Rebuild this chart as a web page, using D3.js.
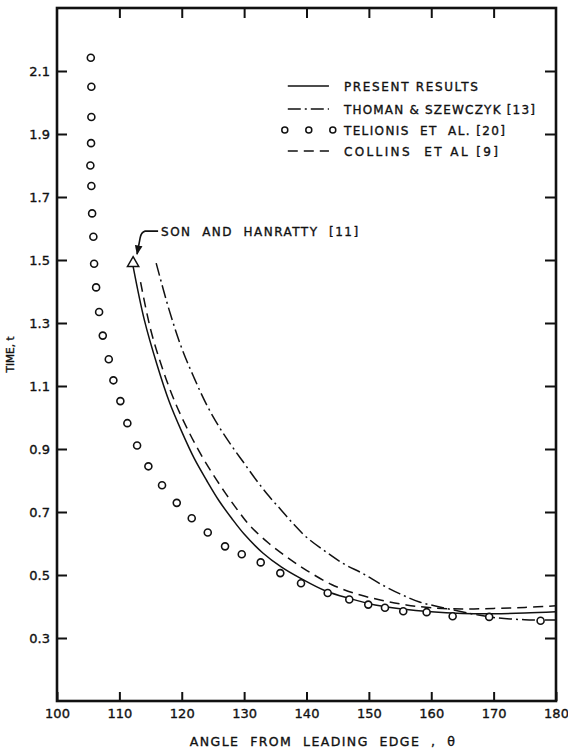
<!DOCTYPE html>
<html><head><meta charset="utf-8">
<script src="https://cdn.jsdelivr.net/npm/d3@7"></script>
<style>
body{margin:0;background:#fff;}
text{font-family:"DejaVu Sans","Liberation Sans",sans-serif;fill:#111;stroke:#111;stroke-width:0.35px;white-space:pre;}
</style></head>
<body><svg id="c" width="568" height="753"></svg>
<script>
// ---- data ----
const xTicks = [100,110,120,130,140,150,160,170,180];
const yTicks = [0.3,0.5,0.7,0.9,1.1,1.3,1.5,1.7,1.9,2.1];
const xTitle = "ANGLE  FROM  LEADING  EDGE  ,  \u03B8";
const yTitle = "TIME, t";

const presentAngle = [112.2,114,116,118,120,122,124,126,128,130,133,136,139,143,147,151,155,160,165,170,175,180];
const presentTime  = [1.48,1.31,1.17,1.05,0.955,0.87,0.80,0.735,0.68,0.63,0.57,0.525,0.49,0.45,0.425,0.405,0.393,0.383,0.378,0.377,0.379,0.383];

const thomanAngle = [115.9,118,120,122,124,126,128,130,132,134,136,138,140,143,146,149,152,155,158,161,164,167,170,175,180];
const thomanTime  = [1.49,1.34,1.22,1.125,1.04,0.97,0.91,0.855,0.80,0.75,0.705,0.66,0.62,0.575,0.535,0.505,0.47,0.44,0.415,0.40,0.387,0.375,0.365,0.358,0.357];

const collinsAngle = [113.4,115,117,119,121,123,125,127,129,131,134,137,140,144,148,152,156,160,165,170,175,180];
const collinsTime  = [1.43,1.28,1.15,1.045,0.96,0.885,0.82,0.76,0.705,0.655,0.60,0.555,0.515,0.47,0.44,0.42,0.405,0.396,0.392,0.394,0.397,0.402];

const telionisAngle = [105.42,105.51,105.51,105.46,105.35,105.51,105.63,105.83,105.95,106.27,106.75,107.34,108.30,109.04,110.16,111.28,112.84,114.65,116.84,119.20,121.60,124.17,126.94,129.62,132.66,135.80,139.12,143.40,146.86,149.90,152.58,155.51,159.26,163.43,169.29,177.53];
const telionisTime  = [2.142,2.050,1.954,1.871,1.800,1.735,1.648,1.574,1.488,1.413,1.335,1.260,1.185,1.118,1.052,0.982,0.911,0.845,0.785,0.729,0.680,0.635,0.591,0.566,0.540,0.506,0.474,0.443,0.422,0.406,0.396,0.385,0.382,0.369,0.367,0.355];

const sonAngle = [112.2];
const sonTime = [1.49];
const sonLabel = "SON  AND  HANRATTY  [11]";

const legendLabels = ["PRESENT RESULTS","THOMAN & SZEWCZYK [13]","TELIONIS  ET  AL. [20]","COLLINS  ET AL [9]"];
const legendKinds = ["solid","dashdot","circles","dashed"];

// ---- chart ----
const svg = d3.select("#c");
const x = d3.scaleLinear().domain([100,180]).range([57,556]);
const y = d3.scaleLinear().domain([0.1,2.3]).range([701,8]);

const fmt = d3.format(".1f");

// axes
const gL = svg.append("g").attr("transform",`translate(${x(100)},0)`)
  .call(d3.axisLeft(y).tickValues(yTicks).tickSizeInner(-10).tickSizeOuter(0).tickPadding(7).tickFormat(fmt));
const gR = svg.append("g").attr("transform",`translate(${x(180)},0)`)
  .call(d3.axisRight(y).tickValues(yTicks).tickSizeInner(-11).tickSizeOuter(0).tickFormat(""));
const gB = svg.append("g").attr("transform",`translate(0,${y(0.1)})`)
  .call(d3.axisBottom(x).tickValues(xTicks).tickSizeInner(-9).tickSizeOuter(0).tickPadding(8).tickFormat(d3.format("d")));
const gT = svg.append("g").attr("transform",`translate(0,${y(2.3)})`)
  .call(d3.axisTop(x).tickValues(xTicks.slice(1,-1)).tickSizeInner(-10).tickSizeOuter(0).tickFormat(""));
[gL,gR,gB,gT].forEach(g=>{
  g.select(".domain").remove();
  g.selectAll(".tick line").attr("stroke","#111").attr("stroke-width",2);
  g.selectAll(".tick text").attr("font-size",13).attr("fill","#111")
   .attr("font-family","DejaVu Sans, sans-serif");
});

svg.append("rect").attr("x",x(100)).attr("y",y(2.3))
  .attr("width",x(180)-x(100)).attr("height",y(0.1)-y(2.3))
  .attr("fill","none").attr("stroke","#111").attr("stroke-width",2.6);

// titles
svg.append("text").attr("x",x(121.3)).attr("y",746)
  .attr("font-size",12.5).attr("textLength",265).attr("lengthAdjust","spacing")
  .text(xTitle);
svg.append("text").attr("transform",`translate(14,${y(1.2)}) rotate(-90)`)
  .attr("text-anchor","middle").attr("font-size",10.5).text(yTitle);

// lines
const line = d3.line().x(d=>x(d[0])).y(d=>y(d[1])).curve(d3.curveCatmullRom.alpha(0.5));
const styles = {
  solid:{dash:null},
  dashed:{dash:"10,6"},
  dashdot:{dash:"13,4,2,4"}
};
function drawSeries(ax,ty,kind){
  svg.append("path").datum(d3.zip(ax,ty)).attr("d",line)
    .attr("fill","none").attr("stroke","#111").attr("stroke-width",1.5)
    .attr("stroke-dasharray",styles[kind].dash);
}
drawSeries(presentAngle,presentTime,"solid");
drawSeries(thomanAngle,thomanTime,"dashdot");
drawSeries(collinsAngle,collinsTime,"dashed");

// circles
svg.append("g").selectAll("circle").data(d3.zip(telionisAngle,telionisTime)).join("circle")
  .attr("cx",d=>x(d[0])).attr("cy",d=>y(d[1])).attr("r",3.5)
  .attr("fill","#fff").attr("stroke","#111").attr("stroke-width",1.6);

// Son & Hanratty triangle
const tri = d3.symbol().type(d3.symbolTriangle).size(55);
svg.append("g").selectAll("path").data(d3.zip(sonAngle,sonTime)).join("path")
  .attr("transform",d=>`translate(${x(d[0])},${y(d[1])})`)
  .attr("d",tri).attr("fill","#fff").attr("stroke","#111").attr("stroke-width",1.5);

// annotation
const sx = x(sonAngle[0]), sy = y(sonTime[0]);
svg.append("defs").append("marker").attr("id","ah").attr("viewBox","0 0 10 10")
  .attr("refX",9).attr("refY",5).attr("markerWidth",6).attr("markerHeight",6).attr("orient","auto")
  .append("path").attr("d","M0,1 L10,5 L0,9 Z").attr("fill","#111");
svg.append("path")
  .attr("d",`M${sx+25},${sy-32} L${sx+12},${sy-32} Q${sx+8},${sy-31} ${sx+7},${sy-25} L${sx+4},${sy-9}`)
  .attr("fill","none").attr("stroke","#111").attr("stroke-width",1.6).attr("marker-end","url(#ah)");
svg.append("text").attr("x",sx+28).attr("y",sy-27).attr("font-size",12)
  .attr("textLength",197).attr("lengthAdjust","spacing").text(sonLabel);

// legend
const lg = svg.append("g");
const lx0 = x(137), lx1 = x(143.6), ltx = x(146);
const legendWidths = [134,191,161,154];
legendLabels.forEach((lab,i)=>{
  const yy = [86,109,130,151][i];
  const k = legendKinds[i];
  if(k==="circles"){
    [0,1,2].forEach(j=>{
      lg.append("circle").attr("cx",lx0-3+j*24).attr("cy",yy).attr("r",3)
        .attr("fill","#fff").attr("stroke","#111").attr("stroke-width",1.5);
    });
  } else {
    lg.append("line").attr("x1",lx0).attr("x2",lx1).attr("y1",yy).attr("y2",yy)
      .attr("stroke","#111").attr("stroke-width",1.5).attr("stroke-dasharray",styles[k].dash);
  }
  lg.append("text").attr("x",ltx).attr("y",yy+4.5).attr("font-size",12)
    .attr("textLength",legendWidths[i]).attr("lengthAdjust","spacing").text(lab);
});
</script></body></html>
